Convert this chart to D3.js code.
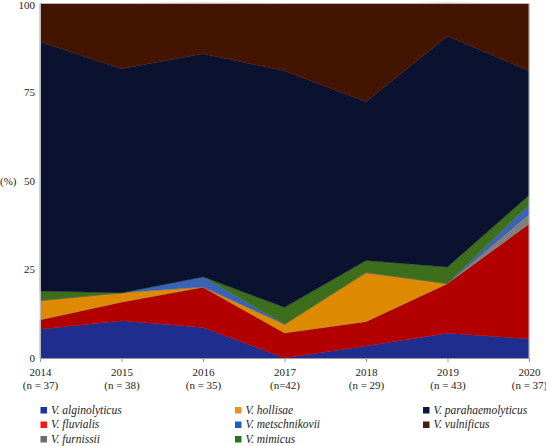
<!DOCTYPE html>
<html>
<head>
<meta charset="utf-8">
<script src="https://cdn.jsdelivr.net/npm/d3@7"></script>
<style>
  html, body { margin: 0; padding: 0; background: #fff; }
  svg { display: block; }
  svg text { font-family: "Liberation Serif", "Times New Roman", Times, serif !important; fill: #222; }
</style>
</head>
<body>
<svg id="chart" width="546" height="446" font-family="Liberation Serif"></svg>
<script>
const years = ["2014", "2015", "2016", "2017", "2018", "2019", "2020"];
const nLabels = ["(n = 37)", "(n = 38)", "(n = 35)", "(n=42)", "(n = 29)", "(n = 43)", "(n = 37)"];
const species = ["V. alginolyticus", "V. fluvialis", "V. furnissii", "V. hollisae",
  "V. metschnikovii", "V. mimicus", "V. parahaemolyticus", "V. vulnificus"];
const alginolyticus   = [8.1, 10.5, 8.6, 0, 3.4, 7.0, 5.4];
const fluvialis       = [2.7, 5.3, 11.4, 7.1, 6.9, 14.0, 32.4];
const furnissii       = [0, 0, 0, 0, 0, 0, 2.7];
const hollisae        = [5.4, 2.6, 0, 2.4, 13.8, 0, 0];
const metschnikovii   = [0, 0, 2.9, 0, 0, 0, 2.7];
const mimicus         = [2.7, 0, 0, 4.8, 3.4, 4.7, 2.7];
const parahaemolyticus= [70.3, 63.2, 62.9, 66.7, 44.8, 65.1, 35.1];
const vulnificus      = [10.8, 18.4, 14.3, 19.0, 27.6, 9.3, 18.9];
const yTicks = [0, 25, 50, 75, 100];

const seriesValues = [alginolyticus, fluvialis, furnissii, hollisae, metschnikovii, mimicus, parahaemolyticus, vulnificus];
const areaColors = ["#1f2e8e", "#b20000", "#7f7f7f", "#de8a00", "#3a63b8", "#3d6e1b", "#0a1230", "#431400"];
const legendColors = ["#1b31a6", "#ff1414", "#6d6d6d", "#e8921a", "#1f5cc6", "#2c741a", "#0d1745", "#4b1a10"];

const table = years.map((yr, i) => {
  const row = { year: yr };
  species.forEach((s, k) => { row[s] = seriesValues[k][i]; });
  return row;
});

const FONT = '"Liberation Serif", "Times New Roman", serif';
const FS = 11;
const svg = d3.select("#chart");
const mLeft = 40, mRight = 529, mTop = 3.5, mBottom = 358;

const x = d3.scalePoint().domain(years).range([mLeft, mRight]);
const y = d3.scaleLinear().domain([0, 100]).range([mBottom, mTop]);

const stacked = d3.stack().keys(species)(table);
const area = d3.area()
  .x(d => x(d.data.year))
  .y0(d => y(d[0]))
  .y1(d => y(d[1]));

svg.append("g").selectAll("path")
  .data(stacked)
  .join("path")
  .attr("d", area)
  .attr("fill", (d, i) => areaColors[i])
  .attr("stroke", (d, i) => areaColors[i])
  .attr("stroke-width", 0.4);

// frame
svg.append("path")
  .attr("d", `M${mLeft},${mTop}H${mRight}V${mBottom}`)
  .attr("fill", "none").attr("stroke", "#bbb").attr("stroke-width", 1);

// x axis
const xAxis = svg.append("g").attr("transform", `translate(0,${mBottom})`)
  .call(d3.axisBottom(x).tickSize(4).tickFormat(() => ""));
xAxis.attr("font-family", FONT);
xAxis.select(".domain").attr("stroke", "#999");
xAxis.selectAll(".tick line").attr("stroke", "#999");
xAxis.selectAll(".tick").each(function(d, i) {
  const g = d3.select(this);
  g.append("text").attr("y", 18).attr("text-anchor", "middle")
    .attr("font-size", FS).style("font-family", FONT).style("fill", "#222").text(years[i]);
  g.append("text").attr("y", 31).attr("text-anchor", "middle")
    .attr("font-size", FS).style("font-family", FONT).style("fill", "#222").text(nLabels[i]);
});

// y axis
const yAxis = svg.append("g").attr("transform", `translate(${mLeft},0)`)
  .call(d3.axisLeft(y).tickValues(yTicks).tickSize(0).tickPadding(5));
yAxis.attr("font-family", FONT);
yAxis.select(".domain").attr("stroke", "#bbb");
yAxis.selectAll(".tick text").attr("font-size", FS)
  .style("font-family", FONT).style("fill", "#222");
yAxis.selectAll(".tick text").filter(d => d === 100).attr("dy", "0.45em");

svg.append("text").attr("x", 0).attr("y", y(50) + 4)
  .attr("font-size", FS).style("font-family", FONT).text("(%)");

// legend
const colX = [40.5, 235, 423];
const rowY = [407, 421.5, 436];
const legendOrder = [
  [0, 0, 0], [1, 0, 1], [2, 0, 2],
  [3, 1, 0], [4, 1, 1], [5, 1, 2],
  [6, 2, 0], [7, 2, 1]
];
const lg = svg.append("g");
legendOrder.forEach(([k, c, r]) => {
  lg.append("rect").attr("x", colX[c]).attr("y", rowY[r])
    .attr("width", 6.5).attr("height", 6.5).attr("fill", legendColors[k]);
  lg.append("text").attr("x", colX[c] + 10.5).attr("y", rowY[r] + 6.5)
    .attr("font-size", 11.5).attr("font-style", "italic")
    .style("font-family", FONT).text(species[k]);
});
</script>
</body>
</html>
